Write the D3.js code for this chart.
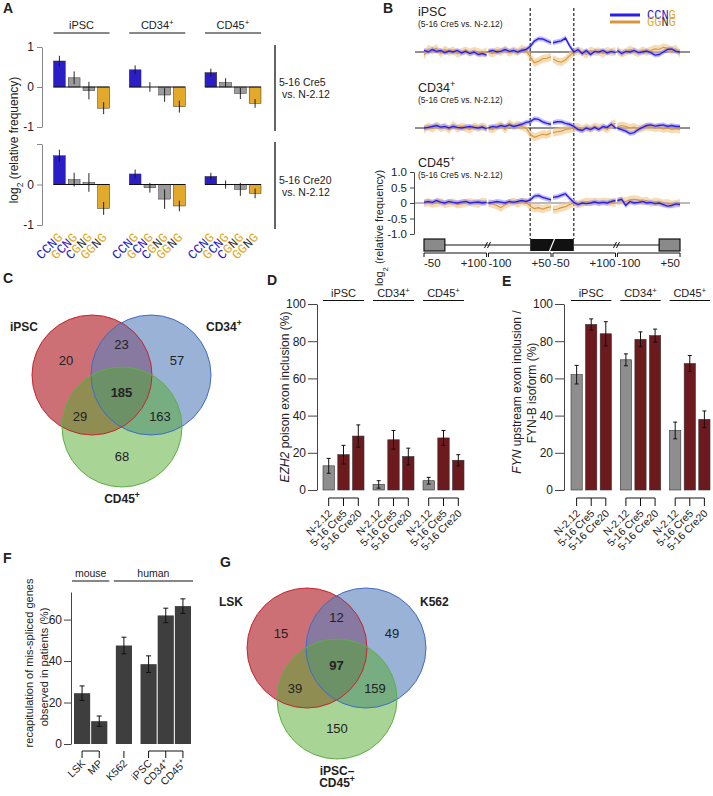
<html>
<head>
  <title>Mis-splicing figure</title>
  <script src="https://d3js.org/d3.v7.min.js"></script>
  <style>
    body { margin: 0; background: #fff; }
    text { font-family: "Liberation Sans", Arial, sans-serif; fill: #222; }
    text.mono { font-family: "Liberation Mono", "DejaVu Sans Mono", monospace; }
  </style>
</head>
<body>
  <svg id="fig" width="713" height="796"></svg>
  <script>
    // ---------- panel A data (log2 relative frequency) ----------
    const cellsA = ["iPSC", "CD34+", "CD45+"];
    const motifs = ["CCNG", "GCNG", "CGNG", "GGNG"];
    const cre5Mean = [[0.65, 0.23, -0.09, -0.53], [0.43, 0.0, -0.2, -0.49], [0.36, 0.11, -0.16, -0.41]];
    const cre5Err = [[0.13, 0.16, 0.22, 0.15], [0.11, 0.12, 0.17, 0.15], [0.1, 0.11, 0.14, 0.11]];
    const cre20Mean = [[0.71, 0.12, 0.05, -0.59], [0.26, -0.08, -0.36, -0.53], [0.2, 0.0, -0.12, -0.22]];
    const cre20Err = [[0.15, 0.17, 0.23, 0.16], [0.11, 0.12, 0.24, 0.13], [0.09, 0.1, 0.16, 0.12]];

    // ---------- panel B data (positions relative to splice sites) ----------
    const posDonor = [-50, -40, -30, -20, -10, 0, 10, 20, 30, 40, 50, 60, 70, 80, 90, 100];
    const posAcceptor = [-100, -90, -80, -70, -60, -50, -40, -30, -20, -10, 0, 10, 20, 30, 40, 50];
    const ipscCCNG = [
      [0.05, 0.0, 0.08, 0.02, 0.05, -0.02, 0.03, 0.0, 0.05, -0.03, 0.02, -0.05, 0.0, -0.08, -0.05, -0.1],
      [0.02, 0.05, 0.0, 0.03, 0.08, 0.02, 0.05, 0.0, 0.05, 0.08, 0.18, 0.35, 0.43, 0.42, 0.36, 0.3],
      [0.3, 0.33, 0.36, 0.45, 0.2, 0.0, 0.08, -0.05, 0.05, -0.08, 0.02, 0.0, 0.05, -0.03, 0.02, -0.02],
      [0.05, -0.05, 0.02, 0.0, 0.05, -0.02, 0.0, 0.03, -0.02, -0.1, -0.08, 0.0, 0.08, 0.1, 0.02, 0.0]
    ];
    const ipscGGNG = [
      [-0.1, 0.1, 0.05, 0.12, -0.05, 0.08, 0.0, 0.05, -0.05, 0.0, 0.05, -0.02, 0.03, 0.0, -0.05, 0.02],
      [0.0, -0.05, 0.05, 0.0, 0.08, -0.02, 0.05, 0.0, 0.1, 0.05, -0.15, -0.35, -0.3, -0.22, -0.2, -0.15],
      [-0.22, -0.3, -0.33, -0.25, -0.12, 0.0, 0.05, 0.0, -0.08, 0.05, 0.0, 0.02, -0.05, 0.03, 0.0, 0.02],
      [0.05, -0.05, 0.0, 0.08, 0.02, -0.03, 0.05, 0.0, 0.05, 0.1, 0.08, 0.15, 0.12, 0.05, 0.1, -0.05]
    ];
    const cd34CCNG = [
      [0.0, 0.02, 0.05, 0.08, 0.03, 0.05, 0.0, 0.05, 0.02, 0.0, 0.03, 0.05, 0.02, 0.0, 0.03, -0.03],
      [0.0, 0.05, 0.03, 0.08, 0.05, 0.1, 0.05, 0.08, 0.12, 0.18, 0.2, 0.3, 0.28, 0.2, 0.15, 0.12],
      [0.17, 0.2, 0.2, 0.15, 0.12, 0.05, -0.05, -0.08, 0.0, -0.05, 0.02, -0.05, 0.05, 0.02, 0.12, 0.0],
      [0.0, -0.05, -0.1, -0.18, -0.15, -0.05, 0.02, 0.08, 0.1, 0.06, 0.08, 0.1, 0.05, 0.08, 0.05, 0.05]
    ];
    const cd34GGNG = [
      [-0.05, 0.05, -0.02, 0.08, 0.0, 0.05, -0.05, 0.1, -0.02, 0.05, 0.0, -0.05, 0.05, 0.0, 0.05, 0.0],
      [0.0, -0.05, 0.05, 0.1, -0.05, 0.15, 0.05, 0.1, 0.05, 0.0, -0.2, -0.3, -0.25, -0.2, -0.22, -0.15],
      [-0.15, -0.12, -0.1, -0.05, -0.03, 0.0, 0.03, -0.05, 0.02, -0.03, 0.05, 0.0, 0.03, -0.05, 0.1, 0.15],
      [0.05, 0.08, 0.05, 0.0, 0.03, -0.03, 0.0, 0.05, 0.03, 0.0, 0.02, -0.03, 0.0, -0.05, -0.02, -0.05]
    ];
    const cd45CCNG = [
      [0.02, 0.05, 0.02, 0.08, 0.03, 0.0, 0.05, 0.02, 0.0, 0.03, 0.05, 0.0, 0.02, 0.03, 0.0, 0.02],
      [0.0, 0.02, 0.05, 0.03, 0.0, 0.05, 0.02, 0.05, 0.08, 0.05, 0.1, 0.22, 0.24, 0.18, 0.14, 0.1],
      [0.18, 0.2, 0.25, 0.3, 0.15, 0.02, -0.05, 0.0, -0.02, 0.0, 0.03, 0.0, 0.02, 0.0, 0.05, 0.08],
      [0.08, 0.12, -0.08, 0.05, 0.0, 0.02, 0.05, 0.0, 0.02, -0.02, 0.0, -0.05, -0.1, -0.08, -0.03, -0.05]
    ];
    const cd45GGNG = [
      [0.0, 0.02, -0.02, 0.0, 0.03, -0.03, 0.0, 0.02, -0.05, -0.02, 0.0, 0.03, 0.0, -0.02, 0.05, 0.02],
      [0.0, -0.03, -0.08, -0.15, -0.05, 0.0, 0.05, -0.02, 0.05, 0.03, -0.1, -0.18, -0.15, -0.2, -0.15, -0.12],
      [-0.22, -0.2, -0.15, -0.12, -0.05, 0.0, -0.05, 0.0, 0.05, 0.02, 0.05, 0.02, 0.05, 0.03, 0.02, 0.0],
      [0.05, 0.08, 0.05, 0.1, 0.12, 0.1, 0.05, 0.08, 0.0, 0.05, 0.02, -0.02, 0.0, -0.05, -0.03, 0.0]
    ];
    const semCCNG = 0.08;
    const semGGNG = 0.13;
    const axisLabelsB = [["-50", "+100"], ["-100", "+50"], ["-50", "+100"], ["-100", "+50"]];

    // ---------- panels C and G (venn counts) ----------
    const vennC_sets = ["iPSC", "CD34+", "CD45+"];
    // order: A only, A&B, B only, A&B&C, A&C, B&C, C only
    const vennC_counts = [20, 23, 57, 185, 29, 163, 68];
    const vennG_sets = ["LSK", "K562", "iPSC–CD45+"];
    const vennG_counts = [15, 12, 49, 97, 39, 159, 150];

    // ---------- panels D and E ----------
    const conds = ["N-2.12", "5-16 Cre5", "5-16 Cre20"];
    const ezh2Mean = [[13, 19, 29], [3, 27, 18], [5, 28, 16]];
    const ezh2Err = [[4, 5, 6], [2, 5, 4.5], [1.8, 4, 3]];
    const fynMean = [[62, 89, 84], [70, 81, 83], [32, 68, 38]];
    const fynErr = [[5, 3, 6.5], [3.2, 4, 3.5], [4.5, 4.3, 4.5]];

    // ---------- panel F ----------
    const recapCats = ["LSK", "MP", "K562", "iPSC", "CD34+", "CD45+"];
    const recapGroup = [0, 0, 1, 2, 2, 2];
    const recapSpecies = ["mouse", "mouse", "human", "human", "human", "human"];
    const recapMean = [24.5, 11, 47.5, 38.5, 62, 66.5];
    const recapErr = [3.5, 2.5, 4, 4, 3.5, 3.5];

    // ---------- styling ----------
    const svg = d3.select("#fig");
    const FONT = "Liberation Sans, Arial, sans-serif";
    const BLUE = "#2b1ec4", GREY = "#9b9b9b", GOLD = "#e3a92a";
    const DARKRED = "#6d1a1f", BARGREY = "#8e8e8e";

    function supText(sel, label) {
      const m = label.match(/^(.*?)(\+?)$/);
      sel.append("tspan").text(m[1]);
      if (m[2]) sel.append("tspan").attr("baseline-shift", "super").attr("font-size", "0.72em").text("+");
    }

    function styleAxis(ax, size) {
      ax.attr("font-family", FONT).attr("font-size", size || 11);
      ax.select(".domain").attr("stroke", "#444");
      ax.selectAll(".tick line").attr("stroke", "#444");
      ax.selectAll(".tick text").attr("fill", "#222");
    }

    // panel letters
    [["A", 3, 13], ["B", 383, 13], ["C", 3, 283], ["D", 267, 285], ["E", 502, 286], ["F", 3, 563], ["G", 220, 567]]
      .forEach(([l, x, y]) => svg.append("text").attr("x", x).attr("y", y)
        .attr("font-size", 14).attr("font-weight", "bold").text(l));

    // ================= PANEL A =================
    const gA = svg.append("g");
    const xA0 = d3.scaleBand().domain(cellsA).range([53.5, 261]).paddingInner(0.26);
    const xA1 = d3.scaleBand().domain(motifs).range([0, xA0.bandwidth()]).paddingInner(0.2);
    const barColA = d3.scaleOrdinal().domain(motifs).range([BLUE, GREY, GREY, GOLD]);
    const letterColor = (m, i) => m[i] === "C" ? BLUE : m[i] === "G" ? GOLD : (m[1] === "C" ? BLUE : "#333");

    cellsA.forEach(c => {
      const t = gA.append("text").attr("x", xA0(c) + xA0.bandwidth() / 2).attr("y", 29)
        .attr("text-anchor", "middle").attr("font-size", 11);
      supText(t, c);
      gA.append("line").attr("x1", xA0(c)).attr("x2", xA0(c) + xA0.bandwidth())
        .attr("y1", 33).attr("y2", 33).attr("stroke", "#111").attr("stroke-width", 1.2);
    });

    const rowsA = [
      { label: "5-16 Cre5", mean: cre5Mean, err: cre5Err, range: [127, 47], shown: [-1, 0, 1] },
      { label: "5-16 Cre20", mean: cre20Mean, err: cre20Err, range: [225, 144], shown: [-1, 0] }
    ];
    rowsA.forEach((row, ri) => {
      const y = d3.scaleLinear().domain([-1, 1]).range(row.range);
      const ax = gA.append("g").attr("transform", "translate(42,0)")
        .call(d3.axisLeft(y).tickValues([-1, 0, 1]).tickSize(5).tickSizeOuter(0)
          .tickFormat(d => row.shown.includes(d) ? String(d) : ""));
      styleAxis(ax, 12);
      ax.select(".domain").attr("stroke", "#888");
      ax.selectAll(".tick line").attr("stroke", "#888");

      const flat = [];
      cellsA.forEach((c, ci) => motifs.forEach((m, mi) =>
        flat.push({ c, m, v: row.mean[ci][mi], e: row.err[ci][mi] })));

      gA.append("g").selectAll("rect").data(flat).join("rect")
        .attr("x", d => xA0(d.c) + xA1(d.m)).attr("width", xA1.bandwidth())
        .attr("y", d => y(Math.max(0, d.v))).attr("height", d => Math.abs(y(d.v) - y(0)))
        .attr("fill", d => barColA(d.m)).attr("stroke", "#333").attr("stroke-width", 0.5);

      gA.append("g").selectAll("line").data(flat).join("line")
        .attr("x1", d => xA0(d.c) + xA1(d.m) + xA1.bandwidth() / 2)
        .attr("x2", d => xA0(d.c) + xA1(d.m) + xA1.bandwidth() / 2)
        .attr("y1", d => y(d.v - d.e)).attr("y2", d => y(d.v + d.e))
        .attr("stroke", "#111").attr("stroke-width", 0.9);

      cellsA.forEach(c => gA.append("line").attr("x1", xA0(c)).attr("x2", xA0(c) + xA0.bandwidth())
        .attr("y1", y(0)).attr("y2", y(0)).attr("stroke", "#111").attr("stroke-width", 1));

      // right bracket with comparison label
      gA.append("line").attr("x1", 275).attr("x2", 275).attr("y1", y(1) - 2).attr("y2", y(-1) + 4)
        .attr("stroke", "#111").attr("stroke-width", 1.3);
      gA.append("text").attr("x", 279).attr("y", y(0) - 1).attr("font-size", 10.5).text(row.label);
      gA.append("text").attr("x", 282).attr("y", y(0) + 11).attr("font-size", 10.5).text("vs. N-2.12");

      if (ri === 1) {
        flat.forEach(d => {
          const cx = xA0(d.c) + xA1(d.m) + xA1.bandwidth() / 2;
          const t = gA.append("text").attr("class", "mono")
            .attr("transform", `translate(${cx + 4},238) rotate(-45)`)
            .attr("text-anchor", "end").attr("font-size", 13);
          d.m.split("").forEach((ch, i) => t.append("tspan").attr("fill", letterColor(d.m, i)).text(ch));
        });
      }
    });
    const yLabA = gA.append("text").attr("transform", "translate(18,140) rotate(-90)")
      .attr("text-anchor", "middle").attr("font-size", 12);
    yLabA.append("tspan").text("log");
    yLabA.append("tspan").attr("baseline-shift", "sub").attr("font-size", "0.7em").text("2");
    yLabA.append("tspan").text(" (relative frequency)");

    // ================= PANEL B =================
    const gB = svg.append("g");
    const segNames = ["up", "exA", "exB", "down"];
    const segPos = { up: posDonor, exA: posAcceptor, exB: posDonor, down: posAcceptor };
    const segX = d3.scaleBand().domain(segNames).range([424, 680]).paddingInner(0.03);
    const segScale = s => d3.scaleLinear()
      .domain([segPos[s][0], segPos[s][segPos[s].length - 1]])
      .range([segX(s), segX(s) + segX.bandwidth()]);

    const panelsB = [
      { cell: "iPSC", zero: 52, title: 16, CCNG: ipscCCNG, GGNG: ipscGGNG },
      { cell: "CD34+", zero: 128, title: 92, CCNG: cd34CCNG, GGNG: cd34GGNG },
      { cell: "CD45+", zero: 203, title: 167, CCNG: cd45CCNG, GGNG: cd45GGNG }
    ];
    const seriesB = {
      GGNG: { line: "#d8963b", band: "#f0c98e", bandOp: 0.65, sem: semGGNG, w: 1.1 },
      CCNG: { line: "#2a1fe8", band: "#7f7af2", bandOp: 0.5, sem: semCCNG, w: 1.4 }
    };

    // dashed exon boundaries
    [["exA", 0], ["exB", 0]].forEach(([s, p]) => {
      const x = segScale(s)(p);
      gB.append("line").attr("x1", x).attr("x2", x).attr("y1", 8).attr("y2", 239)
        .attr("stroke", "#111").attr("stroke-width", 1.1).attr("stroke-dasharray", "3,2");
    });

    panelsB.forEach((p, pi) => {
      const y = d3.scaleLinear().domain([-1, 1]).range([p.zero + 31, p.zero - 31]);
      const t = gB.append("text").attr("x", 418).attr("y", p.title).attr("font-size", 12.5);
      supText(t, p.cell);
      gB.append("text").attr("x", 418).attr("y", p.title + 11).attr("font-size", 8.5).text("(5-16 Cre5 vs. N-2.12)");

      gB.append("line").attr("x1", 415).attr("x2", 690).attr("y1", y(0)).attr("y2", y(0))
        .attr("stroke", pi === 2 ? "#777" : "#222").attr("stroke-width", 1);

      const bands = gB.append("g"), lines = gB.append("g");
      ["GGNG", "CCNG"].forEach(k => {
        const st = seriesB[k];
        segNames.forEach((s, si) => {
          const xs = segScale(s);
          const pts = segPos[s].map((q, i) => ({ x: xs(q), v: p[k][si][i] }));
          bands.append("path").datum(pts)
            .attr("d", d3.area().x(d => d.x).y0(d => y(d.v - st.sem)).y1(d => y(d.v + st.sem)))
            .attr("fill", st.band).attr("fill-opacity", st.bandOp);
          lines.append("path").datum(pts)
            .attr("d", d3.line().x(d => d.x).y(d => y(d.v)))
            .attr("fill", "none").attr("stroke", st.line).attr("stroke-width", st.w);
        });
      });

      if (pi === 2) {
        const ax = gB.append("g").attr("transform", "translate(414,0)")
          .call(d3.axisLeft(y).tickValues([1, 0.5, 0, -0.5, -1]).tickSize(4).tickSizeOuter(0)
            .tickFormat(d => d === 0 ? "0" : d.toFixed(1)));
        styleAxis(ax, 11.5);
      }
    });

    const yLabB = gB.append("text").attr("transform", "translate(383,228) rotate(-90)")
      .attr("text-anchor", "middle").attr("font-size", 11);
    yLabB.append("tspan").text("log");
    yLabB.append("tspan").attr("baseline-shift", "sub").attr("font-size", "0.7em").text("2");
    yLabB.append("tspan").text(" (relative frequency)");

    // legend
    [["CCNG", 15], ["GGNG", 22]].forEach(([k, ly]) => {
      gB.append("line").attr("x1", 610).attr("x2", 640).attr("y1", ly).attr("y2", ly)
        .attr("stroke", seriesB[k].line).attr("stroke-width", 3);
      const t = gB.append("text").attr("class", "mono").attr("x", 647).attr("y", ly + 4).attr("font-size", 12);
      k.split("").forEach((ch, i) => t.append("tspan").attr("fill", letterColor(k, i)).text(ch));
    });

    // gene model
    const gy = 245, bh = 12;
    const sUp = segScale("up"), sA = segScale("exA"), sB = segScale("exB"), sDn = segScale("down");
    gB.append("line").attr("x1", sUp(0)).attr("x2", sA(0)).attr("y1", gy).attr("y2", gy).attr("stroke", "#111");
    gB.append("line").attr("x1", sB(0)).attr("x2", sDn(0)).attr("y1", gy).attr("y2", gy).attr("stroke", "#111");
    gB.append("rect").attr("x", sUp(-50)).attr("width", sUp(0) - sUp(-50)).attr("y", gy - bh / 2).attr("height", bh)
      .attr("fill", "#8a8a8a").attr("stroke", "#111").attr("stroke-width", 1.2);
    gB.append("rect").attr("x", sDn(0)).attr("width", sDn(50) - sDn(0)).attr("y", gy - bh / 2).attr("height", bh)
      .attr("fill", "#8a8a8a").attr("stroke", "#111").attr("stroke-width", 1.2);
    gB.append("rect").attr("x", sA(0)).attr("width", sB(0) - sA(0)).attr("y", gy - bh / 2).attr("height", bh)
      .attr("fill", "#111");
    const slash = (x, col) => gB.append("line").attr("x1", x - 1.5).attr("x2", x + 1.5)
      .attr("y1", gy + 3).attr("y2", gy - 3).attr("stroke", col).attr("stroke-width", 1);
    [(sUp(100) + sA(-100)) / 2, (sB(100) + sDn(-100)) / 2].forEach(x => { slash(x - 1.5, "#111"); slash(x + 1.5, "#111"); });
    gB.append("line").attr("x1", (sA(50) + sB(-50)) / 2 - 2.5).attr("x2", (sA(50) + sB(-50)) / 2 + 2.5)
      .attr("y1", gy + bh / 2).attr("y2", gy - bh / 2).attr("stroke", "#fff").attr("stroke-width", 1.2);

    // bracket axis under gene model
    segNames.forEach((s, si) => {
      const x0 = segX(s), x1 = segX(s) + segX.bandwidth();
      gB.append("path").attr("d", `M${x0},257V253H${x1}V257`).attr("fill", "none").attr("stroke", "#111");
      gB.append("text").attr("x", x0).attr("y", 267).attr("font-size", 11.5).text(axisLabelsB[si][0]);
      gB.append("text").attr("x", x1).attr("y", 267).attr("font-size", 11.5).attr("text-anchor", "end").text(axisLabelsB[si][1]);
    });

    // ================= VENN (C, G) =================
    function venn(sets, counts, A, B, C, labelPos) {
      const g = svg.append("g");
      const r = 60;
      const fills = [["rgb(183,51,58)", 0.7], ["rgb(88,127,188)", 0.6], ["rgb(81,169,45)", 0.5]];
      const strokes = ["#c4272e", "#3f6cc4", "#5fb046"];
      const centers = [A, B, C];
      centers.forEach((c, i) => g.append("circle").attr("cx", c[0]).attr("cy", c[1]).attr("r", r)
        .attr("fill", fills[i][0]).attr("fill-opacity", fills[i][1]));
      centers.forEach((c, i) => g.append("circle").attr("cx", c[0]).attr("cy", c[1]).attr("r", r)
        .attr("fill", "none").attr("stroke", strokes[i]).attr("stroke-width", 1));
      const mx = (A[0] + B[0]) / 2;
      const pos = [
        [A[0] - 26, A[1] - 10], [mx, A[1] - 26], [B[0] + 26, B[1] - 10],
        [mx, A[1] + 22], [A[0] - 12, C[1] - 6], [B[0] + 9, C[1] - 6], [C[0], C[1] + 34]
      ];
      counts.forEach((n, i) => g.append("text").attr("x", pos[i][0]).attr("y", pos[i][1])
        .attr("text-anchor", "middle").attr("font-size", 13).attr("font-weight", i === 3 ? "bold" : null).text(n));
      labelPos.forEach(([x, y, anchor], i) => {
        const parts = sets[i].split("–");
        if (parts.length > 1) {
          const t = g.append("text").attr("x", x).attr("y", y).attr("text-anchor", anchor)
            .attr("font-size", 12).attr("font-weight", "bold");
          t.text(parts[0] + "–");
          const t2 = g.append("text").attr("x", x).attr("y", y + 12).attr("text-anchor", anchor)
            .attr("font-size", 12).attr("font-weight", "bold");
          supText(t2, parts[1]);
        } else {
          const t = g.append("text").attr("x", x).attr("y", y).attr("text-anchor", anchor)
            .attr("font-size", 12).attr("font-weight", "bold");
          supText(t, sets[i]);
        }
      });
    }
    venn(vennC_sets, vennC_counts, [92, 375], [151, 375], [122, 427],
      [[10, 331, "start"], [206, 331, "start"], [122, 503, "middle"]]);
    venn(vennG_sets, vennG_counts, [307, 648], [366, 648], [337, 699],
      [[219, 606, "start"], [420, 606, "start"], [337, 775, "middle"]]);

    // ================= PANELS D and E =================
    function condPanel(mean, err, range, axisX, yLabel) {
      const g = svg.append("g");
      const y = d3.scaleLinear().domain([0, 100]).range([490, 304]);
      const x0 = d3.scaleBand().domain(cellsA).range(range).paddingInner(0.18);
      const x1 = d3.scaleBand().domain(conds).range([0, x0.bandwidth()]).paddingInner(0.23);
      const ax = g.append("g").attr("transform", `translate(${axisX},0)`)
        .call(d3.axisLeft(y).tickValues([0, 20, 40, 60, 80, 100]).tickSize(9).tickSizeOuter(0).tickPadding(2));
      styleAxis(ax, 12);

      const flat = [];
      cellsA.forEach((c, ci) => conds.forEach((k, ki) => flat.push({ c, k, v: mean[ci][ki], e: err[ci][ki] })));
      const cx = d => x0(d.c) + x1(d.k) + x1.bandwidth() / 2;

      g.append("g").selectAll("rect").data(flat).join("rect")
        .attr("x", d => x0(d.c) + x1(d.k)).attr("width", x1.bandwidth())
        .attr("y", d => y(d.v)).attr("height", d => y(0) - y(d.v))
        .attr("fill", d => d.k === conds[0] ? BARGREY : DARKRED)
        .attr("stroke", "#333").attr("stroke-width", 0.6);
      const eb = g.append("g").attr("stroke", "#111").attr("stroke-width", 1);
      flat.forEach(d => {
        eb.append("line").attr("x1", cx(d)).attr("x2", cx(d)).attr("y1", y(d.v - d.e)).attr("y2", y(d.v + d.e));
        [d.v - d.e, d.v + d.e].forEach(v => eb.append("line").attr("x1", cx(d) - 2).attr("x2", cx(d) + 2)
          .attr("y1", y(v)).attr("y2", y(v)));
      });

      cellsA.forEach(c => {
        const a = x0(c), b = x0(c) + x0.bandwidth();
        const t = g.append("text").attr("x", (a + b) / 2).attr("y", 297).attr("text-anchor", "middle").attr("font-size", 11);
        supText(t, c);
        g.append("line").attr("x1", a).attr("x2", b).attr("y1", 300.5).attr("y2", 300.5).attr("stroke", "#111").attr("stroke-width", 1.2);
        const c0 = x0(c) + x1(conds[0]) + x1.bandwidth() / 2, c2 = x0(c) + x1(conds[2]) + x1.bandwidth() / 2;
        g.append("line").attr("x1", c0).attr("x2", c2).attr("y1", 498).attr("y2", 498).attr("stroke", "#111");
        conds.forEach(k => {
          const xx = x0(c) + x1(k) + x1.bandwidth() / 2;
          g.append("line").attr("x1", xx).attr("x2", xx).attr("y1", 498).attr("y2", 506).attr("stroke", "#111");
          g.append("text").attr("transform", `translate(${xx + 4},514) rotate(-45)`)
            .attr("text-anchor", "end").attr("font-size", 10.5).text(k);
        });
      });
      yLabel(g);
    }

    condPanel(ezh2Mean, ezh2Err, [323, 464], 317, g => {
      const t = g.append("text").attr("transform", "translate(289,397) rotate(-90)")
        .attr("text-anchor", "middle").attr("font-size", 12);
      t.append("tspan").attr("font-style", "italic").text("EZH2");
      t.append("tspan").text(" poison exon inclusion (%)");
    });
    condPanel(fynMean, fynErr, [571, 710], 564, g => {
      const t = g.append("text").attr("transform", "translate(521,392) rotate(-90)")
        .attr("text-anchor", "middle").attr("font-size", 12);
      t.append("tspan").attr("font-style", "italic").text("FYN");
      t.append("tspan").text(" upstream exon inclusion /");
      g.append("text").attr("transform", "translate(536,393) rotate(-90)")
        .attr("text-anchor", "middle").attr("font-size", 12).text("FYN-B isoform (%)");
    });

    // ================= PANEL F =================
    const gF = svg.append("g");
    const yF = d3.scaleLinear().domain([0, 73.3]).range([744, 592]);
    const xFb = d3.scaleBand().domain(recapCats).range([74, 74 + 6 * 17]).paddingInner(0.06);
    const xF = c => xFb(c) + recapGroup[recapCats.indexOf(c)] * 7.5;
    const axF = gF.append("g").attr("transform", "translate(71,0)")
      .call(d3.axisLeft(yF).tickValues([0, 20, 40, 60]).tickSize(7).tickSizeOuter(0).tickPadding(2));
    styleAxis(axF, 12);
    const fData = recapCats.map((c, i) => ({ c, v: recapMean[i], e: recapErr[i], g: recapGroup[i], s: recapSpecies[i] }));
    gF.append("g").selectAll("rect").data(fData).join("rect")
      .attr("x", d => xF(d.c)).attr("width", xFb.bandwidth())
      .attr("y", d => yF(d.v)).attr("height", d => yF(0) - yF(d.v))
      .attr("fill", "#3e3e3e");
    const ebF = gF.append("g").attr("stroke", "#111").attr("stroke-width", 1);
    fData.forEach(d => {
      const cx = xF(d.c) + xFb.bandwidth() / 2;
      ebF.append("line").attr("x1", cx).attr("x2", cx).attr("y1", yF(d.v - d.e)).attr("y2", yF(d.v + d.e));
      [d.v - d.e, d.v + d.e].forEach(v => ebF.append("line").attr("x1", cx - 2.5).attr("x2", cx + 2.5)
        .attr("y1", yF(v)).attr("y2", yF(v)));
      gF.append("line").attr("x1", cx).attr("x2", cx).attr("y1", 751).attr("y2", 758).attr("stroke", "#111");
      const t = gF.append("text").attr("transform", `translate(${cx + 4},764) rotate(-45)`)
        .attr("text-anchor", "end").attr("font-size", 10.5);
      supText(t, d.c);
    });
    d3.groups(fData, d => d.g).forEach(([, arr]) => {
      if (arr.length < 2) return;
      const a = xF(arr[0].c) + xFb.bandwidth() / 2, b = xF(arr[arr.length - 1].c) + xFb.bandwidth() / 2;
      gF.append("line").attr("x1", a).attr("x2", b).attr("y1", 751).attr("y2", 751).attr("stroke", "#111");
    });
    d3.groups(fData, d => d.s).forEach(([s, arr]) => {
      const a = xF(arr[0].c) - 2, b = xF(arr[arr.length - 1].c) + xFb.bandwidth() + 2;
      gF.append("text").attr("x", (a + b) / 2).attr("y", 577).attr("text-anchor", "middle").attr("font-size", 10.5).text(s);
      gF.append("line").attr("x1", a).attr("x2", b).attr("y1", 581).attr("y2", 581).attr("stroke", "#111").attr("stroke-width", 1.2);
    });
    gF.append("text").attr("transform", "translate(33,663) rotate(-90)").attr("text-anchor", "middle")
      .attr("font-size", 11).text("recapitulation of mis-spliced genes");
    gF.append("text").attr("transform", "translate(48,667) rotate(-90)").attr("text-anchor", "middle")
      .attr("font-size", 11).text("observed in patients (%)");
  </script>
</body>
</html>
